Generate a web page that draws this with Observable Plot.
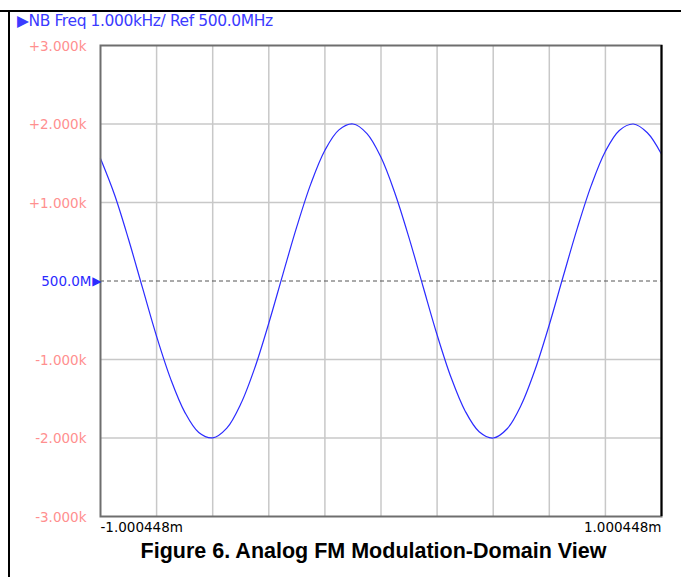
<!DOCTYPE html>
<html>
<head>
<meta charset="utf-8">
<script src="https://cdn.jsdelivr.net/npm/d3@7"></script>
<script src="https://cdn.jsdelivr.net/npm/@observablehq/plot@0.6"></script>
<style>
  html, body { margin: 0; padding: 0; background: #fff; }
  #wrap { position: relative; width: 681px; height: 577px; overflow: hidden; }
  #topline { position: absolute; left: 0; top: 10px; width: 681px; height: 2px; background: #000; }
  #leftline { position: absolute; left: 8px; top: 10px; width: 2px; height: 567px; background: #000; }
  #title { position: absolute; left: 17px; top: 12px; font: 15.5px "DejaVu Sans", sans-serif; color: #3b3bff; white-space: nowrap; letter-spacing: -0.4px; }
  #caption { position: absolute; left: 100px; width: 547px; top: 539px; text-align: center; font: bold 21.5px "Liberation Sans", Arial, sans-serif; color: #000; white-space: nowrap; }
  #chart { position: absolute; left: 0; top: 0; }
</style>
</head>
<body>
<div id="wrap">
  <div id="topline"></div>
  <div id="leftline"></div>
  <div id="title">▶NB Freq 1.000kHz/ Ref 500.0MHz</div>
  <div id="chart"></div>
  <div id="caption">Figure 6. Analog FM Modulation-Domain View</div>
</div>
<script>
// time (ms) relative to center
const times = [-1.000448, -0.95, -0.90, -0.85, -0.80, -0.75, -0.70, -0.65, -0.60, -0.55,
  -0.50, -0.45, -0.40, -0.35, -0.30, -0.25, -0.20, -0.15, -0.10, -0.05,
  0.00, 0.05, 0.10, 0.15, 0.20, 0.25, 0.30, 0.35, 0.40, 0.45,
  0.50, 0.55, 0.60, 0.65, 0.70, 0.75, 0.80, 0.85, 0.90, 0.95, 1.000448];
// frequency deviation (Hz) from 500.0 MHz reference
const deviation = [1560, 1095, 525, -95, -710, -1250, -1670, -1930, -1998, -1875,
  -1565, -1105, -535, 85, 695, 1240, 1665, 1925, 2000, 1878,
  1575, 1115, 550, -70, -685, -1230, -1655, -1920, -2000, -1882,
  -1580, -1125, -560, 60, 670, 1218, 1650, 1918, 2000, 1888, 1615];

const yTicks = [3000, 2000, 1000, 0, -1000, -2000, -3000];
const yTickLabels = ["+3.000k", "+2.000k", "+1.000k", "500.0M", "-1.000k", "-2.000k", "-3.000k"];
const xRange = [-1.000448, 1.000448];
const xTickLabels = ["-1.000448m", "1.000448m"];
const xDivisions = 10;

const data = times.map((t, i) => ({t, f: deviation[i]}));
const xGrid = d3.range(1, xDivisions).map(i => xRange[0] + i * (xRange[1] - xRange[0]) / xDivisions);
const yLab = yTicks.map((v, i) => ({v, label: yTickLabels[i], ref: v === 0}));
const xLab = xRange.map((v, i) => ({v, label: xTickLabels[i], anchor: i === 0 ? "start" : "end"}));

const blue = "#2b2bff";
const pink = "#ff8f8f";

const chart = Plot.plot({
  width: 681,
  height: 540,
  marginLeft: 100,
  marginRight: 20,
  marginTop: 45,
  marginBottom: 24,
  x: {domain: xRange, axis: null},
  y: {domain: [-3000, 3000], axis: null},
  style: {fontFamily: "DejaVu Sans, sans-serif", fontSize: "13px", background: "transparent"},
  marks: [
    Plot.ruleX(xGrid, {stroke: "#c8c8c8", strokeWidth: 1.5}),
    Plot.ruleY(yTicks.filter(v => v !== 0 && Math.abs(v) !== 3000), {stroke: "#c8c8c8", strokeWidth: 1.5}),
    Plot.ruleY([0], {stroke: "#555", strokeWidth: 1, strokeDasharray: "4,3"}),
    Plot.line(data, {x: "t", y: "f", stroke: blue, strokeWidth: 1.2, curve: "catmull-rom"}),
    Plot.frame({stroke: "#6e6e6e", strokeWidth: 2}),
    Plot.ruleX([xRange[1]], {stroke: "#000", strokeWidth: 2}),
    Plot.text(yLab.filter(d => !d.ref), {x: xRange[0], y: "v", text: "label", textAnchor: "end", dx: -14, dy: 1, fill: pink, fontSize: 13.5}),
    Plot.text(yLab.filter(d => d.ref), {x: xRange[0], y: "v", text: "label", textAnchor: "end", dx: -9, dy: 1, fill: blue, fontSize: 13.5}),
    Plot.text(yLab.filter(d => d.ref), {x: xRange[0], y: "v", text: () => "▶", textAnchor: "end", dx: 1, dy: 0, fill: blue, fontSize: 12}),
    Plot.text(xLab.filter(d => d.anchor === "start"), {x: "v", y: -3000, text: "label", textAnchor: "start", dy: 11, fill: "#000", fontSize: 13.5}),
    Plot.text(xLab.filter(d => d.anchor === "end"), {x: "v", y: -3000, text: "label", textAnchor: "end", dy: 11, fill: "#000", fontSize: 13.5})
  ]
});
document.getElementById("chart").appendChild(chart);
</script>
</body>
</html>
